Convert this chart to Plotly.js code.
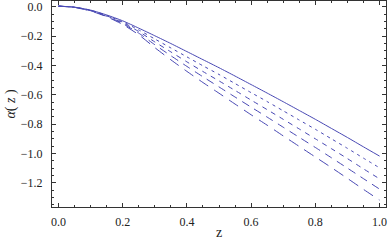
<!DOCTYPE html>
<html>
<head>
<meta charset="utf-8">
<script src="https://cdn.plot.ly/plotly-3.0.1.min.js"></script>
<style>html,body{margin:0;padding:0;background:#fff;}#chart{width:388px;height:240px;}</style>
</head>
<body>
<div id="chart"></div>
<script>
var z = [0, 0.05, 0.1, 0.15, 0.2, 0.25, 0.3, 0.35, 0.4, 0.45, 0.5, 0.55, 0.6, 0.65, 0.7, 0.75, 0.8, 0.85, 0.9, 0.95, 1.0];
var alpha0 = [0.005, -0.002, -0.022, -0.055, -0.095, -0.145, -0.197, -0.25, -0.305, -0.36, -0.415, -0.472, -0.53, -0.588, -0.647, -0.707, -0.767, -0.829, -0.891, -0.955, -1.018];
var alpha1 = [0.005, -0.002, -0.023, -0.058, -0.102, -0.157, -0.219, -0.28, -0.341, -0.402, -0.461, -0.523, -0.585, -0.646, -0.709, -0.772, -0.835, -0.9, -0.965, -1.032, -1.098];
var alpha2 = [0.005, -0.003, -0.025, -0.061, -0.108, -0.168, -0.239, -0.307, -0.375, -0.441, -0.505, -0.57, -0.636, -0.701, -0.767, -0.833, -0.9, -0.967, -1.035, -1.105, -1.173];
var alpha3 = [0.005, -0.003, -0.026, -0.064, -0.114, -0.179, -0.258, -0.333, -0.406, -0.477, -0.546, -0.615, -0.684, -0.752, -0.821, -0.89, -0.959, -1.029, -1.1, -1.172, -1.243];
var alpha4 = [0.005, -0.004, -0.028, -0.067, -0.12, -0.19, -0.278, -0.361, -0.44, -0.516, -0.589, -0.663, -0.736, -0.807, -0.88, -0.952, -1.024, -1.096, -1.17, -1.245, -1.318];
var series = [alpha0, alpha1, alpha2, alpha3, alpha4];
var dashes = ['solid', '3px,4px', '5px,5px', '8px,6px', '11px,7px'];
var xTickVals = [0, 0.2, 0.4, 0.6, 0.8, 1.0];
var yTickVals = [0, -0.2, -0.4, -0.6, -0.8, -1.0, -1.2];

var serif = '"Liberation Serif", "Times New Roman", serif';

var traces = series.map(function (s, i) {
  return {x: z, y: s, mode: 'lines', type: 'scatter',
    line: {color: '#4848b4', width: 1, dash: dashes[i], shape: 'spline', smoothing: 0.6},
    hoverinfo: 'skip', showlegend: false};
});

var axisCommon = {
  showgrid: false, zeroline: false, showline: true, linecolor: '#333', linewidth: 1,
  mirror: 'allticks', ticks: 'inside', ticklen: 4, tickcolor: '#333', tickwidth: 1,
  tickformat: '.1f', tickfont: {family: serif, size: 12, color: '#222'},
  minor: {dtick: 0.05, ticks: 'inside', ticklen: 2, tickcolor: '#333', tickwidth: 1}
};

var layout = {
  width: 388, height: 240,
  font: {family: serif},
  margin: {l: 52, r: 2, t: 1, b: 33},
  paper_bgcolor: '#fff', plot_bgcolor: '#fff',
  xaxis: Object.assign({}, axisCommon, {
    range: [-0.02, 1.02], tickmode: 'array', tickvals: xTickVals, ticklabelstandoff: 4,
    title: {text: 'z', font: {family: serif, size: 14, color: '#222'}, standoff: 0}
  }),
  yaxis: Object.assign({}, axisCommon, {
    range: [-1.365, 0.04], tickmode: 'array', tickvals: yTickVals, ticklabelstandoff: 6,
    title: {text: '<i>α</i>( <i>z</i> )', font: {family: serif, size: 14, color: '#222'}, standoff: 1}
  })
};

Plotly.newPlot('chart', traces, layout, {displayModeBar: false, staticPlot: true});
</script>
</body>
</html>
